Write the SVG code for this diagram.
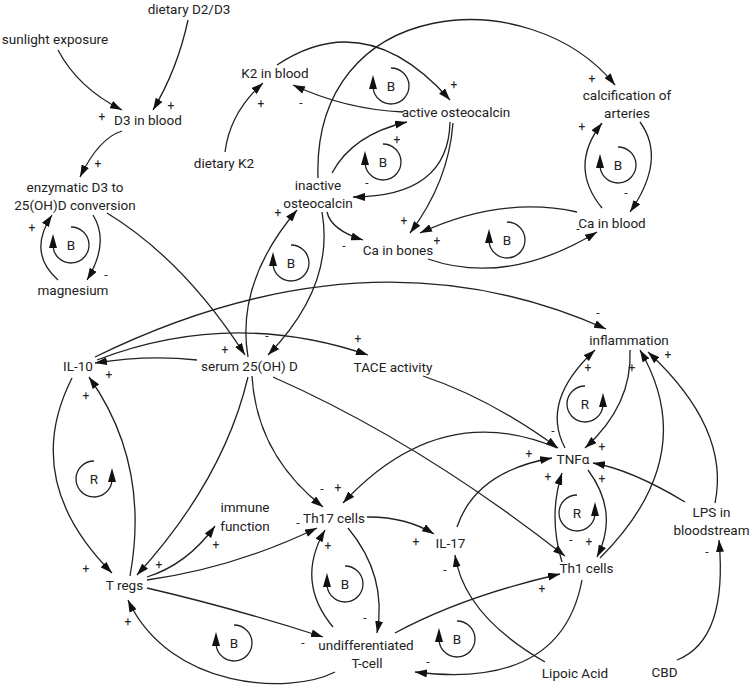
<svg xmlns="http://www.w3.org/2000/svg" width="752" height="688" viewBox="0 0 752 688">
<style>
text{font-family:Roboto,"Liberation Sans",sans-serif;fill:#222}
.n{font-size:13.5px;text-anchor:middle}
.s{font-size:12px;text-anchor:middle}
#connectors path{fill:none;stroke:#222;stroke-width:1.3;marker-end:url(#ah)}
.lp{fill:none;stroke:#222;stroke-width:1.3}
.lt{font-size:13.5px;text-anchor:middle}
</style>
<defs>
<marker id="ah" markerWidth="12" markerHeight="8" refX="12" refY="4" orient="auto" markerUnits="userSpaceOnUse"><path d="M0,0 L12,4 L0,8 z" fill="#111"/></marker>
<g id="loopL"><path class="lp" d="M0,-18 A18,18 0 1 1 -17.9,2"/><polygon points="-22,3 -14,3 -18,-11" fill="#111"/></g>
<g id="loopR"><path class="lp" d="M0,-18 A18,18 0 1 0 17.9,2"/><polygon points="14,3 22,3 18,-11" fill="#111"/></g>
</defs>
<rect width="752" height="688" fill="#fff"/>

<g id="connectors">
<path d="M58,50 Q78,88 122,110"/>
<path d="M188,20 Q177.5,69 153,110"/>
<path d="M122,131 Q99,138 80,177"/>
<path d="M93,215 Q110,242.5 87,280"/>
<path d="M58,280 Q27,252.5 52,215"/>
<path d="M107,213 Q184,260 245,355"/>
<path d="M322,212 Q335,286 268,355"/>
<path d="M248,357 Q235.5,282.5 297,210"/>
<path d="M327,212 Q331,230 363,240"/>
<path d="M332,173 Q352.5,134.5 407,122"/>
<path d="M450,122 Q448.5,196.5 353,197"/>
<path d="M453,123 Q448.5,182 410,233"/>
<path d="M403,112 Q346,109.5 293,85"/>
<path d="M277,65 Q366.5,5.5 450,100"/>
<path d="M225,152 Q230,112.5 263,83"/>
<path d="M318,178 C312,-5 530,-20 615,85"/>
<path d="M640,122 Q667,159 630,212"/>
<path d="M602,208 Q568,166.5 602,123"/>
<path d="M577,212 Q501.5,195.5 420,233"/>
<path d="M428,259 Q507.5,286.5 597,232"/>
<path d="M197,360 Q148,354.5 95,363"/>
<path d="M95,357 Q369.5,223 606,329"/>
<path d="M97,360 Q231.5,308.5 368,355"/>
<path d="M423,376 Q489.5,398 558,448"/>
<path d="M252,376 Q256.5,454.5 323,507"/>
<path d="M248,377 Q223.5,480 137,575"/>
<path d="M273,377 Q419,441.5 565,556"/>
<path d="M130,576 Q150.5,463.5 89,377"/>
<path d="M72,378 Q20,480.5 112,573"/>
<path d="M147,577 Q187,564.5 215,526"/>
<path d="M147,580 Q234,568 317,528"/>
<path d="M147,588 Q233,608 323,637"/>
<path d="M335,672 C290,695 170,690 128,600"/>
<path d="M333,627 Q295,581.5 325,530"/>
<path d="M348,528 Q387.5,575.5 377,633"/>
<path d="M367,517 Q405.5,516.5 434,534"/>
<path d="M457,527 Q475.5,471.5 552,458"/>
<path d="M545,662 Q464,615.5 455,555"/>
<path d="M395,633 Q462.5,596.5 560,574"/>
<path d="M582,580 Q561.5,690 415,672"/>
<path d="M557,448 Q440,398.5 343,503"/>
<path d="M565,448 Q540,401 595,350"/>
<path d="M630,350 Q632.5,405 585,448"/>
<path d="M562,562 Q548,516.5 562,473"/>
<path d="M588,470 Q619.5,512.5 597,557"/>
<path d="M600,558 Q702,456 640,350"/>
<path d="M715,503 Q730.5,428.5 648,352"/>
<path d="M685,502 Q631,469.5 593,463"/>
<path d="M677,660 Q728,640 719,540"/>
<g id="polarities" class="s">
<text x="102" y="121">+</text>
<text x="171" y="110">+</text>
<text x="98" y="168">+</text>
<text x="106" y="279">-</text>
<text x="32" y="232">+</text>
<text x="225" y="354">+</text>
<text x="267" y="340">-</text>
<text x="278" y="217">+</text>
<text x="344" y="250">-</text>
<text x="397" y="144">+</text>
<text x="367" y="187">-</text>
<text x="404" y="225">+</text>
<text x="301" y="107">-</text>
<text x="454" y="89">+</text>
<text x="261" y="108">+</text>
<text x="592" y="83">+</text>
<text x="626" y="197">-</text>
<text x="582" y="131">+</text>
<text x="437" y="245">+</text>
<text x="578" y="233">-</text>
<text x="109" y="379">+</text>
<text x="86" y="400">+</text>
<text x="598" y="317">-</text>
<text x="358" y="343">+</text>
<text x="553" y="435">-</text>
<text x="322" y="493">-</text>
<text x="338" y="492">+</text>
<text x="298" y="527">-</text>
<text x="328" y="550">+</text>
<text x="159" y="569">+</text>
<text x="86" y="573">+</text>
<text x="216" y="549">+</text>
<text x="128" y="626">+</text>
<text x="303" y="647">-</text>
<text x="365" y="622">-</text>
<text x="428" y="666">-</text>
<text x="416" y="546">+</text>
<text x="445" y="574">-</text>
<text x="542" y="593">+</text>
<text x="529" y="458">+</text>
<text x="588" y="372">+</text>
<text x="632" y="372">+</text>
<text x="668" y="359">+</text>
<text x="602" y="451">+</text>
<text x="548" y="481">+</text>
<text x="602" y="483">+</text>
<text x="571" y="544">-</text>
<text x="589" y="546">+</text>
<text x="707" y="556">-</text>
</g>
</g>

<g id="loops">
<g transform="translate(391,86)"><use href="#loopL"/><text class="lt" y="5">B</text></g>
<g transform="translate(383,162)"><use href="#loopL"/><text class="lt" y="5">B</text></g>
<g transform="translate(291,263)"><use href="#loopL"/><text class="lt" y="5">B</text></g>
<g transform="translate(618,165)"><use href="#loopL"/><text class="lt" y="5">B</text></g>
<g transform="translate(507,240)"><use href="#loopL"/><text class="lt" y="5">B</text></g>
<g transform="translate(71,245)"><use href="#loopL"/><text class="lt" y="5">B</text></g>
<g transform="translate(94,479)"><use href="#loopR"/><text class="lt" y="5">R</text></g>
<g transform="translate(585,404)"><use href="#loopR"/><text class="lt" y="5">R</text></g>
<g transform="translate(577,513)"><use href="#loopR"/><text class="lt" y="5">R</text></g>
<g transform="translate(345,584)"><use href="#loopL"/><text class="lt" y="5">B</text></g>
<g transform="translate(234,643)"><use href="#loopL"/><text class="lt" y="5">B</text></g>
<g transform="translate(457,639)"><use href="#loopL"/><text class="lt" y="5">B</text></g>
</g>

<g id="dietary-d2d3"><text class="n" x="189" y="14">dietary D2/D3</text></g>
<g id="sunlight"><text class="n" x="55" y="44">sunlight exposure</text></g>
<g id="d3-blood"><text class="n" x="148" y="125">D3 in blood</text></g>
<g id="enzymatic"><text class="n" x="75" y="192">enzymatic D3 to</text><text class="n" x="75" y="210">25(OH)D conversion</text></g>
<g id="magnesium"><text class="n" x="73" y="295">magnesium</text></g>
<g id="k2-blood"><text class="n" x="275" y="78">K2 in blood</text></g>
<g id="dietary-k2"><text class="n" x="224" y="168">dietary K2</text></g>
<g id="active-osteocalcin"><text class="n" x="456" y="117">active osteocalcin</text></g>
<g id="inactive-osteocalcin"><text class="n" x="318" y="190">inactive</text><text class="n" x="318" y="208">osteocalcin</text></g>
<g id="ca-bones"><text class="n" x="398" y="255">Ca in bones</text></g>
<g id="calcification"><text class="n" x="627" y="100">calcification of</text><text class="n" x="627" y="118">arteries</text></g>
<g id="ca-blood"><text class="n" x="612" y="228">Ca in blood</text></g>
<g id="serum"><text class="n" x="249.5" y="371">serum 25(OH) D</text></g>
<g id="il10"><text class="n" x="78" y="371">IL-10</text></g>
<g id="tace"><text class="n" x="393" y="372">TACE activity</text></g>
<g id="inflammation"><text class="n" x="629" y="345">inflammation</text></g>
<g id="tnfa"><text class="n" x="573" y="464">TNFα</text></g>
<g id="lps"><text class="n" x="711.5" y="517">LPS in</text><text class="n" x="711.5" y="535">bloodstream</text></g>
<g id="cbd"><text class="n" x="664.5" y="677">CBD</text></g>
<g id="lipoic"><text class="n" x="575" y="678">Lipoic Acid</text></g>
<g id="th1"><text class="n" x="586.5" y="573">Th1 cells</text></g>
<g id="il17"><text class="n" x="450.5" y="548">IL-17</text></g>
<g id="th17"><text class="n" x="334" y="523">Th17 cells</text></g>
<g id="immune"><text class="n" x="245" y="512">immune</text><text class="n" x="245" y="531">function</text></g>
<g id="tregs"><text class="n" x="124.5" y="590">T regs</text></g>
<g id="undiff"><text class="n" x="366" y="650">undifferentiated</text><text class="n" x="367" y="668">T-cell</text></g>
</svg>
